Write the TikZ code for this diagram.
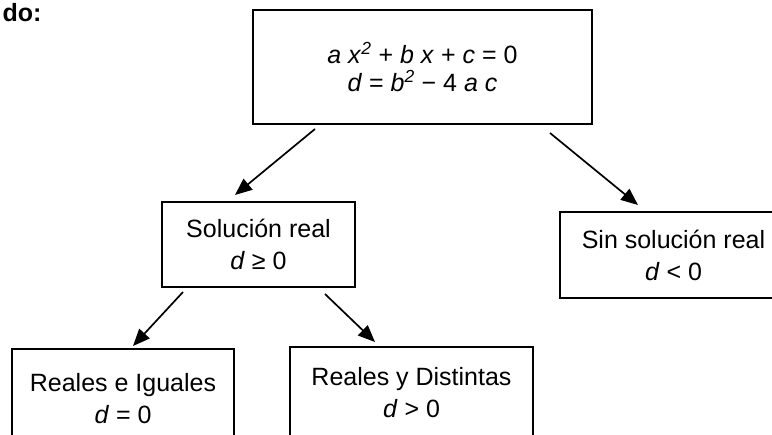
\documentclass[tikz,border=0pt]{standalone}
\usepackage{fontspec}
\setmainfont{Liberation Sans}
\usepackage{tikz}
\usetikzlibrary{positioning,arrows.meta,calc}

\begin{document}
\begin{tikzpicture}[x=1pt, y=-1pt,
    caja/.style={draw, line width=2pt, align=center, inner sep=0pt, font=\fontsize{25}{32}\selectfont},
    flecha/.style={-{Triangle[length=17pt,width=14pt]}, line width=1.7pt}]
    \clip (0,0) rectangle (772,435);
    \node[anchor=base west, font=\fontsize{25}{30}\selectfont\bfseries] (titulo) at (-1,22) {do:};
    \node[caja, minimum width=339pt, minimum height=114pt, font=\fontsize{25}{28}\selectfont] (ecuacion) at (422.5,67)
      {\textit{a x}\textsuperscript{\textit{2}} + \textit{b x} + \textit{c} = 0\\ \textit{d} = \textit{b}\textsuperscript{\textit{2}} − 4 \textit{a c}};
    \node[caja, minimum width=193pt, minimum height=85pt] (real) at (258.5,244.5) {Solución real\\ \textit{d} ≥ 0};
    \node[caja, minimum width=227pt, minimum height=86pt] (nosol) at (673.5,255) {Sin solución real\\ \textit{d} < 0};
    \node[caja, minimum width=222pt, minimum height=99pt] (iguales) at (123,398.5) {Reales e Iguales\\ \textit{d} = 0};
    \node[caja, minimum width=243pt, minimum height=92pt] (distintas) at (411.5,393) {Reales y Distintas\\ \textit{d} > 0};
    \draw[flecha] ($(ecuacion.south)+(-107.5,4)$) -- ($(real.north)+(-23.5,-6)$);
    \draw[flecha] ($(ecuacion.south)+(127.5,8)$) -- ($(nosol.north)+(-35.5,-6)$);
    \draw[flecha] ($(real.south)+(-75.5,4)$) -- ($(iguales.north)+(10,-2)$);
    \draw[flecha] ($(real.south)+(66.5,6)$) -- ($(distintas.north)+(-36.5,-4)$);
  \end{tikzpicture}
\end{document}
